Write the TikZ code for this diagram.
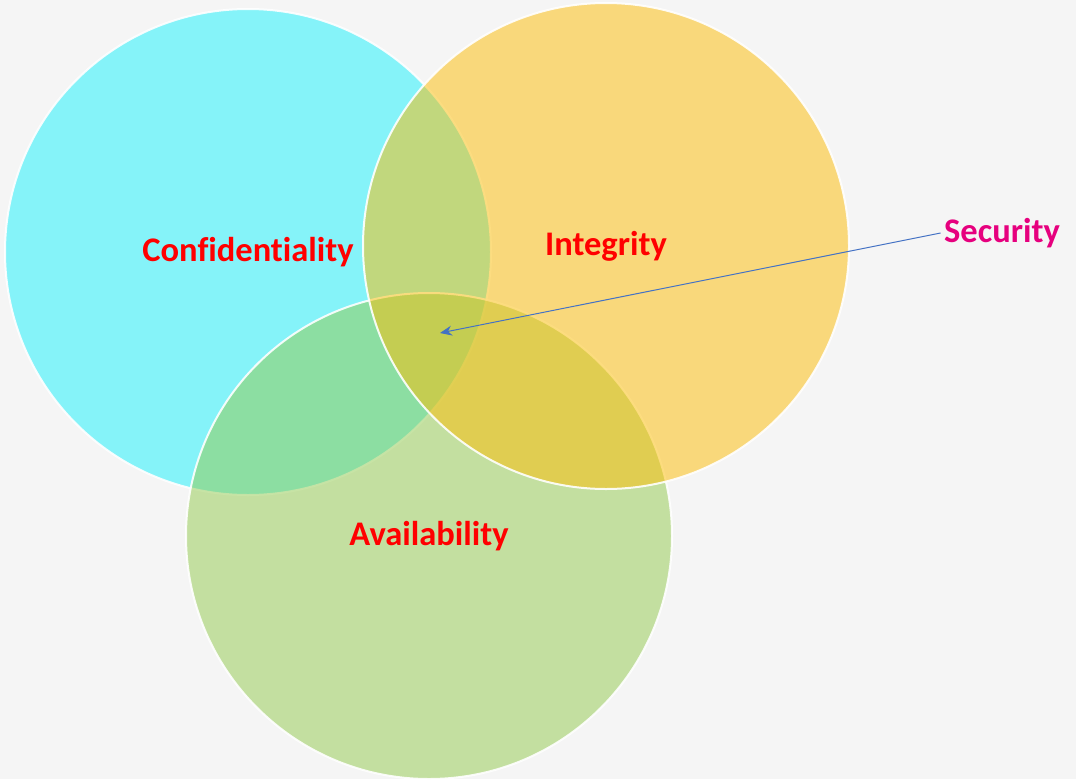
\documentclass[tikz,border=0pt]{standalone}
\usepackage{fontspec}
\setmainfont[Ligatures=NoCommon]{Carlito}
\usepackage{tikz}
\usetikzlibrary{arrows.meta,positioning}

\definecolor{pagebg}{RGB}{245,245,245}
\definecolor{confcol}{RGB}{23,243,253}
\definecolor{availcol}{RGB}{147,203,77}
\definecolor{integcol}{RGB}{253,189,3}
\definecolor{labelred}{RGB}{255,0,0}
\definecolor{secpink}{RGB}{230,0,126}
\definecolor{arrowblue}{RGB}{68,114,196}

\begin{document}
\begin{tikzpicture}[x=1pt,y=-1pt,
    setcircle/.style={circle,draw=white,line width=2pt,fill opacity=0.5,
      draw opacity=0.9,minimum size=486pt,inner sep=0pt},
    setlabel/.style={text=labelred,font=\fontsize{34.5}{40}\selectfont\bfseries},
  ]
  \useasboundingbox[fill=pagebg] (0,0) rectangle (1076,779);
  % the three sets
  \node[setcircle,fill=confcol] (conf) at (248,252) {};
  \node[setcircle,fill=availcol] (avail) at (429,536) {};
  \node[setcircle,fill=integcol] (integ) at (606,246) {};
  % labels
  \node[setlabel,below=-18pt of conf.center] {Confidentiality};
  \node[setlabel,below=-18pt of integ.center] {Integrity};
  \node[setlabel,below=-18pt of avail.center] {Availability};
  \node[text=secpink,font=\fontsize{34.5}{40}\selectfont\bfseries] (sec) at (1002,233) {Security};
  \coordinate (core) at (440,333);
  \draw[arrowblue,line width=1pt,-{Stealth[length=12pt,width=10pt]}] (sec.west) -- (core);
\end{tikzpicture}
\end{document}
